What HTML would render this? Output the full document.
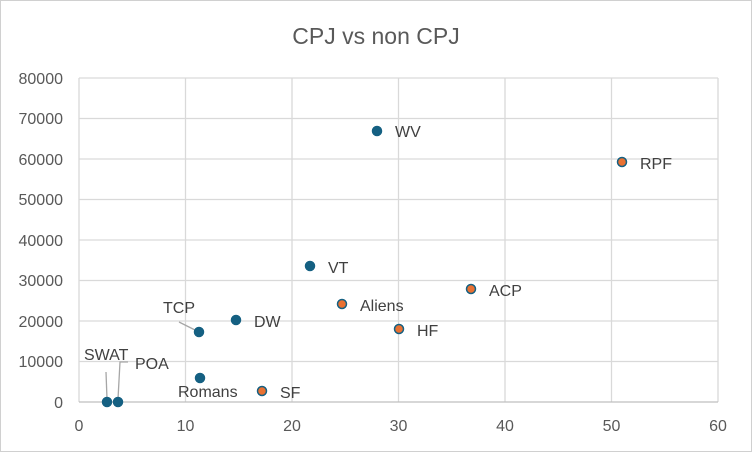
<!DOCTYPE html>
<html><head><style>
body{margin:0;background:#fff}
svg{display:block;font-family:"Liberation Sans",sans-serif}
</style></head><body>
<svg width="752" height="452" viewBox="0 0 752 452">
<rect x="0.5" y="0.5" width="751" height="451" fill="#fff" stroke="#d0d0d0"/>
<text x="376" y="44" text-anchor="middle" font-size="23" fill="#595959">CPJ vs non CPJ</text>
<g stroke="#d9d9d9" stroke-width="1.3">
<line x1="79" y1="78" x2="718" y2="78"/><line x1="79" y1="118.5" x2="718" y2="118.5"/>
<line x1="79" y1="159" x2="718" y2="159"/><line x1="79" y1="199.5" x2="718" y2="199.5"/>
<line x1="79" y1="240" x2="718" y2="240"/><line x1="79" y1="280.5" x2="718" y2="280.5"/>
<line x1="79" y1="321" x2="718" y2="321"/><line x1="79" y1="361.5" x2="718" y2="361.5"/>
<line x1="185.5" y1="78" x2="185.5" y2="402"/><line x1="292" y1="78" x2="292" y2="402"/>
<line x1="398.5" y1="78" x2="398.5" y2="402"/><line x1="505" y1="78" x2="505" y2="402"/>
<line x1="611.5" y1="78" x2="611.5" y2="402"/><line x1="718" y1="78" x2="718" y2="402"/>
<line x1="79" y1="78" x2="79" y2="402"/>
</g>
<line x1="79" y1="402" x2="718" y2="402" stroke="#bfbfbf" stroke-width="1.3"/>
<g font-size="16" fill="#595959" text-anchor="end">
<text x="63" y="84">80000</text><text x="63" y="124">70000</text><text x="63" y="165">60000</text>
<text x="63" y="205">50000</text><text x="63" y="246">40000</text><text x="63" y="286">30000</text>
<text x="63" y="327">20000</text><text x="63" y="367">10000</text><text x="63" y="408">0</text>
</g>
<g font-size="16" fill="#595959" text-anchor="middle">
<text x="79" y="431">0</text><text x="185.5" y="431">10</text><text x="292" y="431">20</text>
<text x="398.5" y="431">30</text><text x="505" y="431">40</text><text x="611.5" y="431">50</text><text x="718" y="431">60</text>
</g>
<g stroke="#a6a6a6" stroke-width="1.3" fill="none">
<polyline points="106,372 107,399"/>
<polyline points="118,399 120,362 128,362"/>
<polyline points="179,322 197,331"/>
</g>
<g fill="#156082" stroke="#156082" stroke-width="1.5">
<circle cx="377" cy="131" r="4.5"/><circle cx="310" cy="266" r="4.5"/><circle cx="236" cy="320" r="4.5"/>
<circle cx="199" cy="332" r="4.5"/><circle cx="200" cy="378" r="4.5"/>
<circle cx="107" cy="402" r="4.5"/><circle cx="118" cy="402" r="4.5"/>
</g>
<g fill="#e97132" stroke="#156082" stroke-width="1.5">
<circle cx="622" cy="162" r="4.5"/><circle cx="471" cy="289" r="4.5"/><circle cx="342" cy="304" r="4.5"/>
<circle cx="399" cy="329" r="4.5"/><circle cx="262" cy="391" r="4.5"/>
</g>
<g font-size="16" fill="#404040">
<text x="395" y="137">WV</text><text x="640" y="169">RPF</text><text x="328" y="273">VT</text>
<text x="489" y="296">ACP</text><text x="360" y="311">Aliens</text><text x="254" y="327">DW</text>
<text x="417" y="336">HF</text><text x="163" y="313">TCP</text><text x="178" y="397">Romans</text>
<text x="280" y="398">SF</text><text x="84" y="360">SWAT</text><text x="135" y="369">POA</text>
</g>
</svg>
</body></html>
